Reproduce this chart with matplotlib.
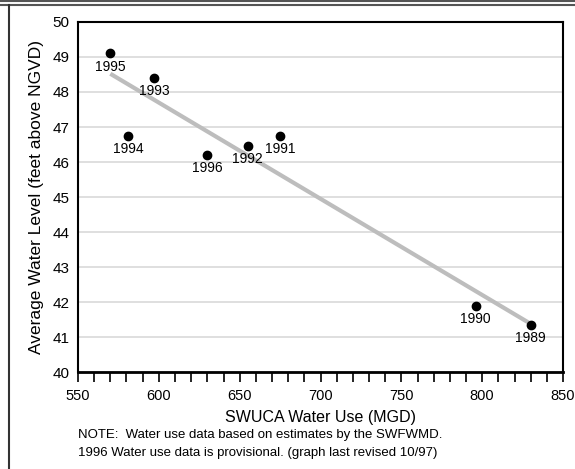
import numpy as np
from matplotlib import pyplot as plt
from matplotlib.lines import Line2D

plt.rcParams['font.family'] = ['Liberation Sans', 'DejaVu Sans']

# data
years = ['1995', '1993', '1994', '1996', '1992', '1991', '1990', '1989']
water_use = [570, 597, 581, 630, 655, 675, 796, 830]
water_level = [49.1, 48.4, 46.75, 46.2, 46.45, 46.75, 41.9, 41.35]

x_ticks = [550, 600, 650, 700, 750, 800, 850]
y_ticks = [40, 41, 42, 43, 44, 45, 46, 47, 48, 49, 50]

note_lines = ["NOTE:  Water use data based on estimates by the SWFWMD.",
              "1996 Water use data is provisional. (graph last revised 10/97)"]

fig = plt.figure(figsize=(5.75, 4.69), dpi=100)
ax = fig.add_axes([78/575, 1-372/469, 485/575, 350/469])

# linear trend line
slope, icpt = np.polyfit(water_use, water_level, 1)
tx = np.array([min(water_use), max(water_use)])
ax.plot(tx, slope*tx + icpt, color='#bdbdbd', lw=3, solid_capstyle='butt', zorder=2)

ax.plot(water_use, water_level, 'o', color='black', ms=6, zorder=3)
for yr, x, y in zip(years, water_use, water_level):
    ax.annotate(yr, (x, y), xytext=(0, -9.5), textcoords='offset points',
                ha='center', va='center', fontsize=10)

ax.set_xlim(550, 850)
ax.set_ylim(40, 50)
ax.set_xticks(x_ticks)
ax.set_xticks(np.arange(550, 851, 10), minor=True)
ax.set_yticks(y_ticks)
ax.yaxis.grid(True, color='#d9d9d9', lw=1.2)
ax.set_axisbelow(True)
ax.tick_params(axis='x', which='both', direction='out', length=7, width=1.2, labelsize=10.5, pad=5)
ax.tick_params(axis='y', length=0, labelsize=11, pad=6)
for s in ax.spines.values():
    s.set_linewidth(1.5)
ax.spines['bottom'].set_linewidth(2)

ax.set_xlabel('SWUCA Water Use (MGD)', fontsize=11.5, labelpad=5)
ax.set_ylabel('Average Water Level (feet above NGVD)', fontsize=12.5, labelpad=6)

fig.text(78/575, 1-435/469, note_lines[0], fontsize=9.5, va='center', ha='left')
fig.text(78/575, 1-453/469, note_lines[1], fontsize=9.5, va='center', ha='left')

# outer frame
fig.add_artist(Line2D([0, 1], [1-1/469, 1-1/469], color='#555555', lw=1.5))
fig.add_artist(Line2D([0, 1], [1-5/469, 1-5/469], color='#555555', lw=1.5))
fig.add_artist(Line2D([9/575, 9/575], [0, 1-5/469], color='#333333', lw=1.5))

plt.savefig('out.png', dpi=100)
